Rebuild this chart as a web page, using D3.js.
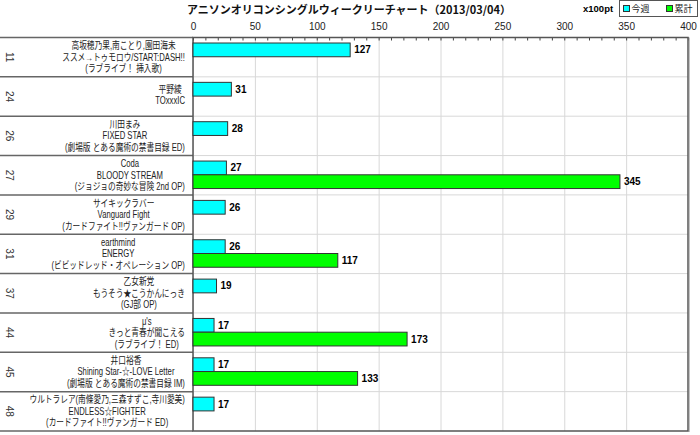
<!DOCTYPE html>
<html>
<head>
<meta charset="utf-8">
<script src="https://cdn.jsdelivr.net/npm/d3@7"></script>
<style>
  body { margin: 0; background: #fff; }
  svg { display: block; font-family: "Liberation Sans", "Noto Sans CJK JP", sans-serif; }
</style>
</head>
<body>
<svg id="chart" width="700" height="435"></svg>
<script>
const ranks = [11, 24, 26, 27, 29, 31, 37, 44, 45, 48];
const artists = [
  "高坂穂乃果,南ことり,園田海未", "平野綾", "川田まみ", "Coda", "サイキックラバー",
  "earthmind", "乙女新党", "μ's", "井口裕香", "ウルトラレア(南條愛乃,三森すずこ,寺川愛美)"
];
const titles = [
  "ススメ→トゥモロウ/START:DASH!!", "TOxxxIC", "FIXED STAR", "BLOODY STREAM", "Vanguard Fight",
  "ENERGY", "もうそう★こうかんにっき", "きっと青春が聞こえる", "Shining Star-☆-LOVE Letter", "ENDLESS☆FIGHTER"
];
const notes = [
  "(ラブライブ！ 挿入歌)", "", "(劇場版 とある魔術の禁書目録 ED)", "(ジョジョの奇妙な冒険 2nd OP)",
  "(カードファイト!!ヴァンガード OP)", "(ビビッドレッド・オペレーション OP)", "(GJ部 OP)",
  "(ラブライブ！ ED)", "(劇場版 とある魔術の禁書目録 IM)", "(カードファイト!!ヴァンガード ED)"
];
const thisWeek = [127, 31, 28, 27, 26, 26, 19, 17, 17, 17];
const total = [null, null, null, 345, null, 117, null, 173, 133, null];
const xTicks = [0, 50, 100, 150, 200, 250, 300, 350, 400];
const seriesNames = ["今週", "累計"];
const seriesColors = ["#00ffff", "#00ff00"];

const svg = d3.select("#chart");
const plotTop = 37.5, plotBottom = 431, plotLeft = 193, plotRight = 688;

const x = d3.scaleLinear().domain([0, 400]).range([plotLeft, plotRight]);
const y = d3.scaleBand().domain(d3.range(ranks.length)).range([plotTop, plotBottom]);
const ySub = d3.scaleBand().domain([0, 1]).range([5.5, 33]);

// gridlines
svg.append("g")
  .attr("transform", `translate(0,${plotTop})`)
  .call(d3.axisBottom(x).tickValues(xTicks).tickSize(plotBottom - plotTop).tickFormat(""))
  .call(g => g.select(".domain").remove())
  .call(g => g.selectAll("line").attr("stroke", "#d8d8d8"));

// row separators in plot area
svg.append("g").selectAll("line")
  .data(d3.range(1, ranks.length))
  .join("line")
  .attr("x1", plotLeft).attr("x2", plotRight)
  .attr("y1", i => y(i)).attr("y2", i => y(i))
  .attr("stroke", "#d8d8d8");

// row separators in label area
svg.append("g").selectAll("line")
  .data(d3.range(0, ranks.length + 1))
  .join("line")
  .attr("x1", 0).attr("x2", plotLeft)
  .attr("y1", i => i < ranks.length ? y(i) : plotBottom)
  .attr("y2", i => i < ranks.length ? y(i) : plotBottom)
  .attr("stroke", "#666")
  .attr("stroke-width", 1.5);

// minor ticks at top
svg.append("g")
  .attr("transform", `translate(0,${plotTop})`)
  .call(d3.axisBottom(x).ticks(40).tickSize(3).tickFormat(""))
  .call(g => g.select(".domain").remove())
  .call(g => g.selectAll("line").attr("stroke", "#444"));

// tick labels
svg.append("g")
  .attr("transform", `translate(0,30)`)
  .call(d3.axisTop(x).tickValues(xTicks).tickSize(0).tickPadding(0))
  .call(g => g.select(".domain").remove())
  .call(g => g.selectAll("text")
    .attr("font-size", 10)
    .attr("font-family", "Liberation Sans, sans-serif")
    .attr("fill", "#222"));

// plot frame
svg.append("rect")
  .attr("x", plotLeft).attr("y", plotTop)
  .attr("width", plotRight - plotLeft).attr("height", plotBottom - plotTop)
  .attr("fill", "none").attr("stroke", "#555").attr("stroke-width", 1.5);
svg.append("line")
  .attr("x1", plotRight + 1).attr("x2", plotRight + 1)
  .attr("y1", plotTop).attr("y2", plotBottom + 1)
  .attr("stroke", "#888").attr("stroke-width", 1);

// bars
const rows = svg.append("g").selectAll("g")
  .data(ranks.map((r, i) => ({ i, vals: [thisWeek[i], total[i]] })))
  .join("g")
  .attr("transform", d => `translate(0,${y(d.i)})`);

rows.selectAll("rect")
  .data(d => d.vals.map((v, k) => ({ v, k })).filter(e => e.v != null))
  .join("rect")
  .attr("x", x(0))
  .attr("y", e => ySub(e.k))
  .attr("width", e => x(e.v) - x(0))
  .attr("height", ySub.bandwidth())
  .attr("fill", e => seriesColors[e.k])
  .attr("stroke", "#333")
  .attr("stroke-width", 1);

rows.selectAll("text.val")
  .data(d => d.vals.map((v, k) => ({ v, k })).filter(e => e.v != null))
  .join("text")
  .attr("class", "val")
  .attr("x", e => x(e.v) + 4)
  .attr("y", e => ySub(e.k) + ySub.bandwidth() / 2)
  .attr("dy", "0.35em")
  .attr("font-size", 10)
  .attr("font-weight", "bold")
  .attr("fill", "#000")
  .text(e => e.v);

// rank numbers (rotated)
svg.append("g").selectAll("text")
  .data(ranks)
  .join("text")
  .attr("transform", (r, i) => `translate(9,${y(i) + y.bandwidth() / 2}) rotate(90)`)
  .attr("text-anchor", "middle")
  .attr("dy", "0.35em")
  .attr("font-size", 10)
  .attr("fill", "#333")
  .text(r => r);

// song labels: block right-aligned, lines centred inside block, squeezed horizontally
const labelRight = 185, squeeze = 0.77, lineH = 11.5;
ranks.forEach((r, i) => {
  const lines = [artists[i], titles[i], notes[i]].filter(s => s);
  const g = svg.append("g");
  const texts = g.selectAll("text")
    .data(lines)
    .join("text")
    .attr("x", 0)
    .attr("font-size", 10)
    .attr("fill", "#222")
    .attr("text-anchor", "middle")
    .attr("dy", "0.35em")
    .text(s => s);
  let maxW = 0;
  texts.each(function () { maxW = Math.max(maxW, this.getComputedTextLength()); });
  const cx = labelRight - maxW * squeeze / 2;
  const cy = y(i) + (lines.length === 3 ? y.bandwidth() / 2 : 18);
  texts.attr("y", (s, k) => cy + (k - (lines.length - 1) / 2) * lineH);
  g.attr("transform", `translate(${cx},0) scale(${squeeze},1)`);
});

// title
svg.append("text")
  .attr("x", 349).attr("y", 10)
  .attr("text-anchor", "middle")
  .attr("font-family", "Noto Sans CJK JP, sans-serif")
  .attr("font-size", 11)
  .attr("font-weight", "bold")
  .attr("fill", "#111")
  .text("アニソンオリコンシングルウィークリーチャート（2013/03/04）")
  .attr("dy", "0.35em");

svg.append("text")
  .attr("x", 583).attr("y", 9)
  .attr("dy", "0.35em")
  .attr("font-size", 9.5)
  .attr("font-weight", "bold")
  .text("x100pt");

// legend
const legend = svg.append("g").attr("transform", "translate(619.5,0.5)");
legend.append("rect")
  .attr("width", 78).attr("height", 16)
  .attr("fill", "#fff").attr("stroke", "#555");
const items = legend.selectAll("g")
  .data(seriesNames)
  .join("g")
  .attr("transform", (d, k) => `translate(${4 + k * 43},8)`);
items.append("rect")
  .attr("x", 0).attr("y", -3)
  .attr("width", 6).attr("height", 6)
  .attr("fill", (d, k) => seriesColors[k])
  .attr("stroke", "#333");
items.append("text")
  .attr("x", 8)
  .attr("dy", "0.35em")
  .attr("font-size", 9)
  .attr("fill", "#222")
  .text(d => d);
</script>
</body>
</html>
